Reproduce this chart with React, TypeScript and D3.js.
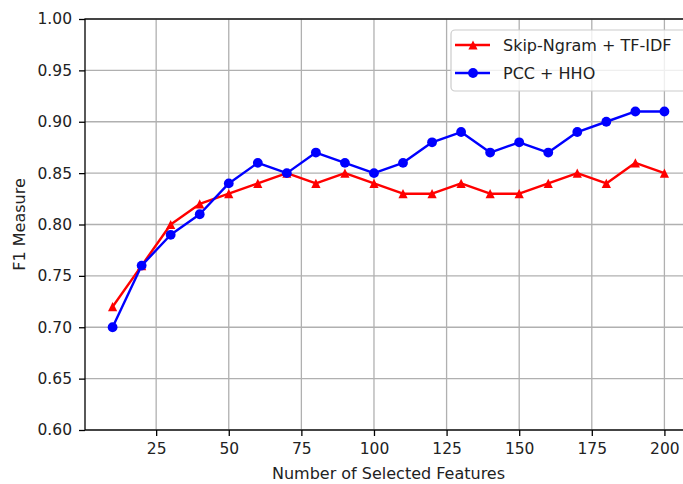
import React, { useEffect, useRef } from 'react'
import * as d3 from 'd3'

const features = [10, 20, 30, 40, 50, 60, 70, 80, 90, 100, 110, 120, 130, 140, 150, 160, 170, 180, 190, 200]
const skipNgram = [0.72, 0.76, 0.80, 0.82, 0.83, 0.84, 0.85, 0.84, 0.85, 0.84, 0.83, 0.83, 0.84, 0.83, 0.83, 0.84, 0.85, 0.84, 0.86, 0.85]
const pccHho = [0.70, 0.76, 0.79, 0.81, 0.84, 0.86, 0.85, 0.87, 0.86, 0.85, 0.86, 0.88, 0.89, 0.87, 0.88, 0.87, 0.89, 0.90, 0.91, 0.91]
const xTicks = [25, 50, 75, 100, 125, 150, 175, 200]
const yTicks = [0.60, 0.65, 0.70, 0.75, 0.80, 0.85, 0.90, 0.95, 1.00]
const seriesNames = ['Skip-Ngram + TF-IDF', 'PCC + HHO']
const seriesColors = ['#ff0000', '#0000ff']

const W = 683
const H = 484
const FONT = 'DejaVu Sans, sans-serif'

function triangle(r: number) {
  return `M0,${-r}L${-r},${r}L${r},${r}Z`
}

export default function App() {
  const ref = useRef<SVGSVGElement>(null)

  useEffect(() => {
    const svg = d3.select(ref.current)
    svg.selectAll('*').remove()

    const left = 85, right = 692, top = 19, bottom = 430
    const x = d3.scaleLinear().domain([0.5, 209.5]).range([left, right])
    const y = d3.scaleLinear().domain([0.6, 1.0]).range([bottom, top])

    // grid
    const grid = svg.append('g').attr('stroke', '#b0b0b0').attr('stroke-width', 1.3)
    grid.selectAll('.gx').data(xTicks).enter().append('line')
      .attr('x1', d => x(d)).attr('x2', d => x(d))
      .attr('y1', top).attr('y2', bottom)
    grid.selectAll('.gy').data(yTicks).enter().append('line')
      .attr('x1', left).attr('x2', right)
      .attr('y1', d => y(d)).attr('y2', d => y(d))

    // lines + markers
    const line = d3.line<number>().x((d, i) => x(features[i])).y(d => y(d))
    const all = [skipNgram, pccHho]
    all.forEach((vals, s) => {
      svg.append('path')
        .datum(vals)
        .attr('d', line)
        .attr('fill', 'none')
        .attr('stroke', seriesColors[s])
        .attr('stroke-width', 2.4)
        .attr('stroke-linejoin', 'round')
      const pts = svg.append('g').attr('fill', seriesColors[s])
      if (s === 0) {
        pts.selectAll('path').data(vals).enter().append('path')
          .attr('d', triangle(4.6))
          .attr('transform', (d, i) => `translate(${x(features[i])},${y(d)})`)
      } else {
        pts.selectAll('circle').data(vals).enter().append('circle')
          .attr('cx', (d, i) => x(features[i]))
          .attr('cy', d => y(d))
          .attr('r', 4.9)
      }
    })

    // axes
    const xAxis = svg.append('g')
      .attr('transform', `translate(0,${bottom})`)
      .call(d3.axisBottom(x).tickValues(xTicks).tickSize(6).tickPadding(7).tickFormat(d3.format('d')))
    const yAxis = svg.append('g')
      .attr('transform', `translate(${left},0)`)
      .call(d3.axisLeft(y).tickValues(yTicks).tickSize(6).tickPadding(7).tickFormat(d3.format('.2f')))
    ;[xAxis, yAxis].forEach(g => {
      g.select('.domain').remove()
      g.attr('font-family', FONT).attr('font-size', 15.5)
      g.selectAll('line').attr('stroke', '#000').attr('stroke-width', 1.3)
      g.selectAll('text').attr('fill', '#222')
    })

    // spines
    svg.append('rect')
      .attr('x', left).attr('y', top)
      .attr('width', right - left).attr('height', bottom - top)
      .attr('fill', 'none').attr('stroke', '#000').attr('stroke-width', 1.3)

    // axis labels
    svg.append('text')
      .attr('x', (left + right) / 2).attr('y', 479)
      .attr('text-anchor', 'middle')
      .attr('font-family', FONT).attr('font-size', 16).attr('fill', '#222')
      .text('Number of Selected Features')
    svg.append('text')
      .attr('transform', `translate(25,${(top + bottom) / 2}) rotate(-90)`)
      .attr('text-anchor', 'middle')
      .attr('font-family', FONT).attr('font-size', 16).attr('fill', '#222')
      .text('F1 Measure')

    // legend
    const lg = svg.append('g')
    lg.append('rect')
      .attr('x', 451).attr('y', 30).attr('width', 236).attr('height', 61).attr('rx', 4)
      .attr('fill', '#fff').attr('fill-opacity', 0.8)
      .attr('stroke', '#cccccc').attr('stroke-width', 1.2)
    seriesNames.forEach((name, i) => {
      const cy = 45 + i * 28
      lg.append('line')
        .attr('x1', 455).attr('x2', 490).attr('y1', cy).attr('y2', cy)
        .attr('stroke', seriesColors[i]).attr('stroke-width', 2.4)
      if (i === 0) {
        lg.append('path').attr('d', triangle(4.6))
          .attr('transform', `translate(473,${cy})`).attr('fill', seriesColors[i])
      } else {
        lg.append('circle').attr('cx', 473).attr('cy', cy).attr('r', 4.9).attr('fill', seriesColors[i])
      }
      lg.append('text')
        .attr('x', 503).attr('y', cy).attr('dy', '0.35em')
        .attr('font-family', FONT).attr('font-size', 16).attr('fill', '#222')
        .text(name)
    })
  }, [])

  return (
    <svg ref={ref} width={W} height={H}
      style={{ position: 'absolute', left: 0, top: 0, background: '#fff' }} />
  )
}
